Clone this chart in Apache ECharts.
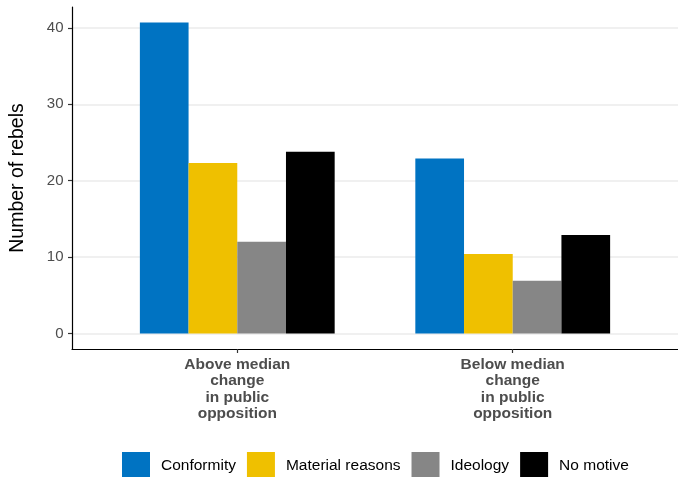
<!DOCTYPE html>
<html>
<head>
<meta charset="utf-8">
<script src="https://cdn.jsdelivr.net/npm/echarts@6/dist/echarts.min.js"></script>
<style>
html,body{margin:0;padding:0;background:#fff;}
#chart{width:678px;height:477px;}
</style>
</head>
<body>
<div id="chart"></div>
<script>
var categories = ['Above median\nchange\nin public\nopposition', 'Below median\nchange\nin public\nopposition'];
var seriesNames = ['Conformity', 'Material reasons', 'Ideology', 'No motive'];
var conformity = [40.7, 22.9];
var material = [22.3, 10.4];
var ideology = [12.0, 6.9];
var noMotive = [23.8, 12.9];
var yTicks = [0, 10, 20, 30, 40];
var colors = ['#0073C2', '#EFC000', '#868686', '#000000'];

var values = [conformity, material, ideology, noMotive];
var positions = categories.map(function (c, i) { return i + 1; });

var chart = echarts.init(document.getElementById('chart'), null, {renderer: 'canvas'});
var fontFam = 'Liberation Sans, Arial, sans-serif';

chart.setOption({
  animation: false,
  backgroundColor: '#fff',
  textStyle: {fontFamily: fontFam},
  grid: {left: 70, right: 0, top: 7, bottom: 128, containLabel: false},
  xAxis: {
    type: 'value',
    min: 0.4,
    max: 2.6,
    axisLine: {show: true, onZero: false, lineStyle: {color: '#000', width: 1.2}},
    axisTick: {show: true, customValues: positions, length: 4, lineStyle: {color: '#333', width: 1.2}},
    axisLabel: {
      customValues: positions,
      formatter: function (v) { return categories[Math.round(v) - 1] || ''; },
      color: '#4D4D4D', fontSize: 15.5, fontWeight: 'bold', lineHeight: 16.5, margin: 7,
      fontFamily: fontFam
    },
    splitLine: {show: false}
  },
  yAxis: {
    type: 'value',
    min: -2.035,
    max: 42.735,
    name: 'Number of rebels',
    nameLocation: 'middle',
    nameGap: 44,
    nameTextStyle: {color: '#000', fontSize: 19.5, fontFamily: fontFam},
    axisLine: {show: true, onZero: false, lineStyle: {color: '#000', width: 1.2}},
    axisTick: {show: true, customValues: yTicks, length: 4, lineStyle: {color: '#333', width: 1.2}},
    axisLabel: {customValues: yTicks, color: '#4D4D4D', fontSize: 15, margin: 8.5, fontFamily: fontFam},
    splitLine: {show: true, lineStyle: {color: '#EBEBEB', width: 1.5}}
  },
  legend: {
    left: 122,
    top: 452,
    icon: 'rect',
    itemWidth: 28,
    itemHeight: 28,
    itemGap: 11,
    padding: 0,
    textStyle: {color: '#000', fontSize: 15.5, padding: [0, 0, 0, 6], fontFamily: fontFam},
    data: seriesNames
  },
  series: seriesNames.map(function (name, s) {
    return {
      name: name,
      type: 'bar',
      barWidth: 48.7,
      barGap: '0%',
      itemStyle: {color: colors[s]},
      data: positions.map(function (p, i) { return [p, values[s][i]]; })
    };
  })
});
</script>
</body>
</html>
